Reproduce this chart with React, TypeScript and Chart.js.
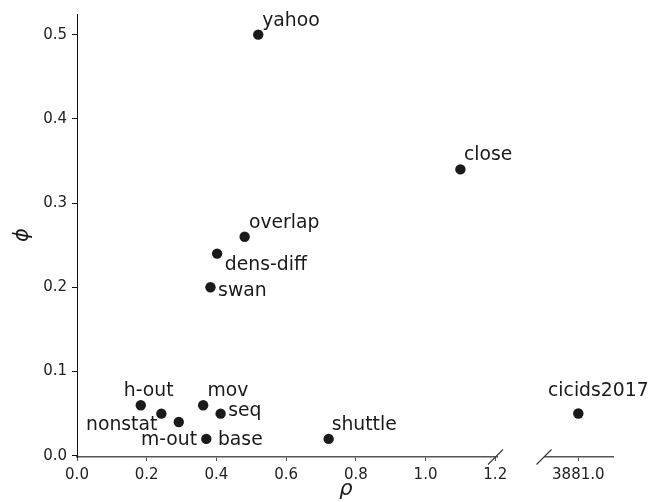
import { useEffect, useRef } from "react";
import { Chart, registerables } from "chart.js";
Chart.register(...registerables);

// ---- data ----
const leftNames = ["yahoo", "close", "overlap", "dens-diff", "swan", "h-out", "nonstat", "m-out", "mov", "seq", "base", "shuttle"];
const leftRho = [0.52, 1.1, 0.481, 0.402, 0.383, 0.183, 0.242, 0.292, 0.362, 0.412, 0.371, 0.722];
const leftPhi = [0.5, 0.34, 0.26, 0.24, 0.2, 0.06, 0.05, 0.04, 0.06, 0.05, 0.02, 0.02];
const rightNames = ["cicids2017"];
const rightRho = [3881.0];
const rightPhi = [0.05];
const leftXTicks = [0, 0.2, 0.4, 0.6, 0.8, 1.0, 1.2];
const rightXTicks = [3881.0];
const yTicks = [0, 0.1, 0.2, 0.3, 0.4, 0.5];
const xTitle = "\u03C1";
const yTitle = "\u03D5";

// ---- label placement (style) ----
const leftLabelOffsets = [
  { dx: 4, dy: -9, align: "left" },
  { dx: 3.5, dy: -9, align: "left" },
  { dx: 4.3, dy: -9, align: "left" },
  { dx: 7.7, dy: 16.6, align: "left" },
  { dx: 7.6, dy: 8.3, align: "left" },
  { dx: -17, dy: -9, align: "left" },
  { dx: -4, dy: 16.6, align: "right" },
  { dx: 18.3, dy: 23.3, align: "right" },
  { dx: 4.4, dy: -9, align: "left" },
  { dx: 7.6, dy: 2.6, align: "left" },
  { dx: 11.6, dy: 6.6, align: "left" },
  { dx: 3, dy: -8.7, align: "left" },
];
const rightLabelOffsets = [{ dx: -30.3, dy: -17.4, align: "left" }];

const FONT = "'DejaVu Sans', 'Liberation Sans', sans-serif";
const W = 651;
const H = 502;
const Y_MIN = -0.0015;
const Y_MAX = 0.5245;

function labelPlugin(names: string[], offsets: any[]) {
  return {
    id: "pointLabels",
    afterDatasetsDraw(chart: any) {
      const ctx = chart.ctx;
      const meta = chart.getDatasetMeta(0);
      ctx.save();
      ctx.font = `18.8px ${FONT}`;
      ctx.fillStyle = "#1a1a1a";
      ctx.textBaseline = "alphabetic";
      meta.data.forEach((pt: any, i: number) => {
        const o = offsets[i];
        ctx.textAlign = o.align;
        ctx.fillText(names[i], pt.x + o.dx, pt.y + o.dy);
      });
      ctx.restore();
    },
  };
}

function breakPlugin(side: "right" | "left", drawTitles: boolean) {
  return {
    id: "breakMarks",
    afterDraw(chart: any) {
      const ctx = chart.ctx;
      const a = chart.chartArea;
      ctx.save();
      ctx.strokeStyle = "#333";
      ctx.lineWidth = 1.1;
      const cx = side === "right" ? a.right - 1.5 : a.left - 1;
      const cy = a.bottom;
      ctx.beginPath();
      ctx.moveTo(cx - 7.5, cy + 7.5);
      ctx.lineTo(cx + 7.5, cy - 7.5);
      ctx.stroke();
      if (drawTitles) {
        ctx.fillStyle = "#1a1a1a";
        ctx.font = `italic 21px ${FONT}`;
        ctx.textAlign = "center";
        ctx.textBaseline = "alphabetic";
        ctx.fillText(xTitle, 346, 495);
        ctx.translate(28, 235);
        ctx.rotate(-Math.PI / 2);
        ctx.fillText(yTitle, 0, 0);
      }
      ctx.restore();
    },
  };
}

function xScale(min: number, max: number, ticks: number[]) {
  return {
    type: "linear",
    min,
    max,
    afterBuildTicks: (s: any) => {
      s.ticks = ticks.map((v) => ({ value: v }));
    },
    afterFit: (s: any) => {
      s.height = 45;
    },
    grid: { display: true, drawOnChartArea: false, drawTicks: true, tickLength: 4, color: "#555", lineWidth: 1 },
    border: { display: true, color: "#555", width: 1.5 },
    ticks: {
      color: "#222",
      font: { family: FONT, size: 15 },
      padding: 5,
      maxRotation: 0,
      autoSkip: false,
      callback: (v: any) => Number(v).toFixed(1),
    },
  };
}

export default function App() {
  const leftRef = useRef<HTMLCanvasElement>(null);
  const rightRef = useRef<HTMLCanvasElement>(null);

  useEffect(() => {
    const pointStyle = {
      pointRadius: 5.2,
      pointBackgroundColor: "#1a1a1a",
      pointBorderWidth: 0,
      showLine: false,
      clip: false as any,
    };
    const left = new Chart(leftRef.current!, {
      type: "scatter",
      data: {
        datasets: [
          {
            data: leftRho.map((x, i) => ({ x, y: leftPhi[i] })),
            ...pointStyle,
          },
        ],
      },
      options: {
        animation: false,
        responsive: false,
        events: [],
        layout: { padding: { left: 0, top: 13, right: 154, bottom: 0 } },
        plugins: { legend: { display: false }, tooltip: { enabled: false } },
        scales: {
          x: xScale(0, 1.205, leftXTicks) as any,
          y: {
            type: "linear",
            min: Y_MIN,
            max: Y_MAX,
            afterBuildTicks: (s: any) => {
              s.ticks = yTicks.map((v) => ({ value: v }));
            },
            afterFit: (s: any) => {
              s.width = 77;
            },
            grid: { display: true, drawOnChartArea: false, drawTicks: true, tickLength: 5, color: "#111", lineWidth: 1 },
            border: { display: true, color: "#111", width: 1 },
            ticks: {
              color: "#222",
              font: { family: FONT, size: 15 },
              padding: 5,
              autoSkip: false,
              callback: (v: any) => Number(v).toFixed(1),
            },
          },
        },
      },
      plugins: [labelPlugin(leftNames, leftLabelOffsets), breakPlugin("right", true)],
    });

    const right = new Chart(rightRef.current!, {
      type: "scatter",
      data: {
        datasets: [
          {
            data: rightRho.map((x, i) => ({ x, y: rightPhi[i] })),
            ...pointStyle,
          },
        ],
      },
      options: {
        animation: false,
        responsive: false,
        events: [],
        layout: { padding: { left: 545, top: 13, right: 38, bottom: 0 } },
        plugins: { legend: { display: false }, tooltip: { enabled: false } },
        scales: {
          x: xScale(3880.51, 3881.51, rightXTicks) as any,
          y: { type: "linear", display: false, min: Y_MIN, max: Y_MAX },
        },
      },
      plugins: [labelPlugin(rightNames, rightLabelOffsets), breakPlugin("left", false)],
    });

    return () => {
      left.destroy();
      right.destroy();
    };
  }, []);

  return (
    <div style={{ position: "fixed", left: 0, top: 0, width: W, height: H, background: "#fff" }}>
      <canvas ref={leftRef} width={W} height={H} style={{ position: "absolute", left: 0, top: 0 }} />
      <canvas ref={rightRef} width={W} height={H} style={{ position: "absolute", left: 0, top: 0 }} />
    </div>
  );
}
